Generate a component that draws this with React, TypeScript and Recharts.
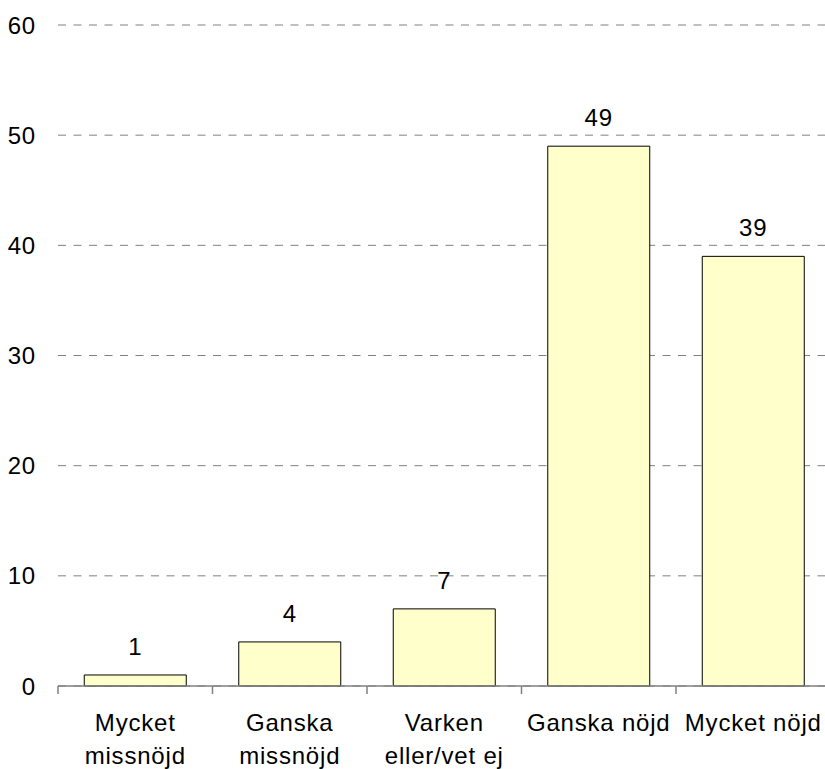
import React from 'react'
import { BarChart, Bar, XAxis, YAxis, CartesianGrid, LabelList } from 'recharts'

// Svarsfördelning, procent per svarsalternativ
const categories = ['Mycket\nmissnöjd', 'Ganska\nmissnöjd', 'Varken\neller/vet ej', 'Ganska nöjd', 'Mycket nöjd']
const values = [1, 4, 7, 49, 39]
const yTicks = [0, 10, 20, 30, 40, 50, 60]

const data = categories.map((name, i) => ({ name, value: values[i] }))

const CHART_W = 840
const CHART_H = 769
const MARGIN = { top: 25, right: 9.5, left: 0, bottom: 0 }
const Y_W = 58
const BAND = (CHART_W - Y_W - MARGIN.left - MARGIN.right) / categories.length

const FONT = '"Liberation Sans", Arial, sans-serif'
const FS = 24
const LS = 0.8
const AXIS_GREY = '#808080'

// Etikett med radbrytning + tickstreck på kategorigränserna (som i Excel)
function CategoryTick(props: any) {
  const { x, y, payload, index } = props
  const lines = String(payload.value).split('\n')
  const left = x - BAND / 2
  return (
    <g>
      <line x1={left} y1={y} x2={left} y2={y + 8} stroke={AXIS_GREY} strokeWidth={1.5} />
      {index === categories.length - 1 && (
        <line x1={x + BAND / 2} y1={y} x2={x + BAND / 2} y2={y + 8} stroke={AXIS_GREY} strokeWidth={1.5} />
      )}
      {lines.map((l, i) => (
        <text
          key={i}
          x={x}
          y={y + 45 + i * 33}
          textAnchor="middle"
          fill="#000"
          fontSize={FS}
          fontFamily={FONT}
          letterSpacing={LS}
        >
          {l}
        </text>
      ))}
    </g>
  )
}

export default function App() {
  return (
    <div style={{ position: 'absolute', left: 0, top: 0, width: 825, height: 769, overflow: 'hidden', background: '#fff' }}>
      <BarChart width={CHART_W} height={CHART_H} data={data} margin={MARGIN} barCategoryGap="17%">
        <CartesianGrid
          vertical={false}
          stroke={AXIS_GREY}
          strokeDasharray="8 7.5"
        />
        <YAxis
          width={Y_W}
          domain={[0, 60]}
          ticks={yTicks}
          axisLine={false}
          tickLine={false}
          tickSize={0}
          tickMargin={22}
          tick={{ fontSize: FS, fill: '#000', fontFamily: FONT, letterSpacing: LS }}
        />
        <XAxis
          dataKey="name"
          height={CHART_H - 686}
          axisLine={{ stroke: AXIS_GREY, strokeWidth: 1.5 }}
          tickLine={false}
          tickSize={0}
          tickMargin={0}
          interval={0}
          tick={<CategoryTick />}
        />
        <Bar dataKey="value" fill="#FFFFCC" stroke="#000" strokeWidth={1} isAnimationActive={false}>
          <LabelList
            dataKey="value"
            position="top"
            offset={20}
            fill="#000"
            fontSize={FS}
            fontFamily={FONT}
            letterSpacing={LS}
          />
        </Bar>
      </BarChart>
    </div>
  )
}
